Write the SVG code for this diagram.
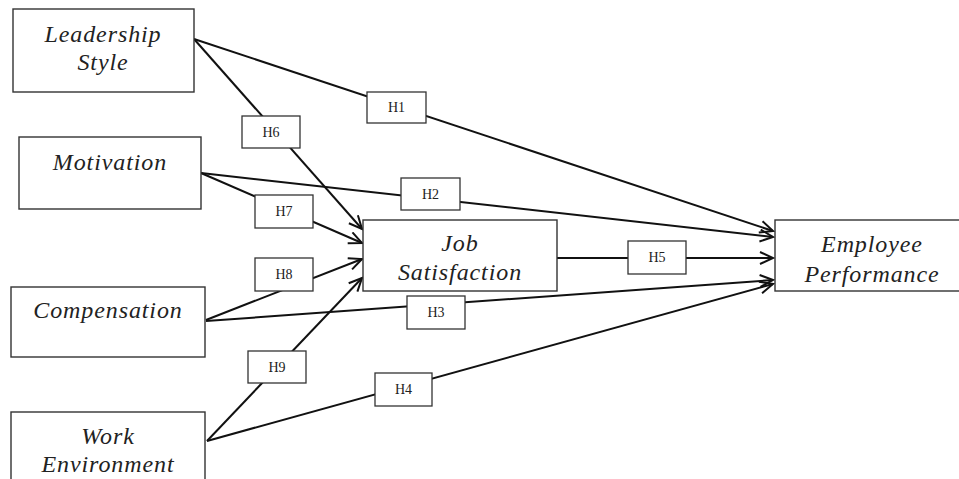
<svg xmlns="http://www.w3.org/2000/svg" width="959" height="479" viewBox="0 0 959 479">
<style>
.node rect{fill:#fff;stroke:#333;stroke-width:1.4}
.node text{font-family:"Liberation Serif","Times New Roman",serif;font-style:italic;font-size:24px;letter-spacing:0.9px;fill:#222;text-anchor:middle}
.lbl rect{fill:#fff;stroke:#333;stroke-width:1.3}
.lbl text{font-family:"Liberation Serif","Times New Roman",serif;font-size:14px;fill:#222;text-anchor:middle}
.edge{stroke:#111;stroke-width:2;fill:none;marker-end:url(#arr)}
</style>
<defs>
<marker id="arr" markerUnits="userSpaceOnUse" markerWidth="20" markerHeight="20" refX="14" refY="7" orient="auto">
<path d="M1,1 L14,7 L1,13" fill="none" stroke="#111" stroke-width="2"/>
</marker>
</defs>
<g id="connectors">
<line class="edge" x1="194" y1="39" x2="773" y2="231"/>
<line class="edge" x1="194" y1="39" x2="362" y2="229"/>
<line class="edge" x1="201" y1="173" x2="773" y2="237"/>
<line class="edge" x1="201" y1="173" x2="362" y2="243"/>
<line class="edge" x1="206" y1="320" x2="362" y2="259"/>
<line class="edge" x1="206" y1="321" x2="773" y2="280"/>
<line class="edge" x1="207" y1="441" x2="362" y2="278"/>
<line class="edge" x1="207" y1="441" x2="773" y2="284"/>
<line class="edge" x1="557" y1="258" x2="773" y2="258"/>
</g>
<g id="n-leadership" class="node"><rect x="13" y="9" width="181" height="83"/><text x="103" y="42">Leadership</text><text x="103" y="70">Style</text></g>
<g id="n-motivation" class="node"><rect x="19" y="137" width="182" height="72"/><text x="110" y="170">Motivation</text></g>
<g id="n-compensation" class="node"><rect x="11" y="287" width="194" height="70"/><text x="108" y="318">Compensation</text></g>
<g id="n-workenv" class="node"><rect x="11" y="412" width="194" height="80"/><text x="108" y="444">Work</text><text x="108" y="472">Environment</text></g>
<g id="n-jobsat" class="node"><rect x="363" y="220" width="194" height="71"/><text x="460" y="251">Job</text><text x="460" y="280">Satisfaction</text></g>
<g id="n-empperf" class="node"><rect x="775" y="220" width="190" height="71"/><text x="872" y="252">Employee</text><text x="872" y="282">Performance</text></g>
<g id="l-h1" class="lbl"><rect x="367" y="92" width="59" height="31"/><text x="396.5" y="112">H1</text></g>
<g id="l-h2" class="lbl"><rect x="401" y="178" width="59" height="32"/><text x="430.5" y="199">H2</text></g>
<g id="l-h6" class="lbl"><rect x="242" y="116" width="58" height="32"/><text x="271" y="137">H6</text></g>
<g id="l-h7" class="lbl"><rect x="255" y="195" width="58" height="33"/><text x="284" y="216">H7</text></g>
<g id="l-h8" class="lbl"><rect x="255" y="258" width="58" height="33"/><text x="284" y="279">H8</text></g>
<g id="l-h3" class="lbl"><rect x="407" y="296" width="58" height="33"/><text x="436" y="317">H3</text></g>
<g id="l-h9" class="lbl"><rect x="248" y="351" width="58" height="32"/><text x="277" y="372">H9</text></g>
<g id="l-h4" class="lbl"><rect x="375" y="373" width="57" height="33"/><text x="403.5" y="394">H4</text></g>
<g id="l-h5" class="lbl"><rect x="628" y="241" width="58" height="33"/><text x="657" y="262">H5</text></g>
</svg>
